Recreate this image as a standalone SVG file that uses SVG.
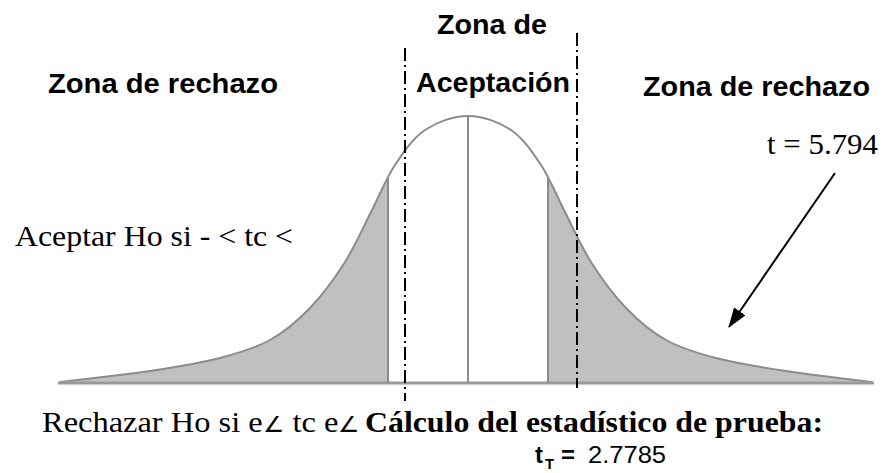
<svg xmlns="http://www.w3.org/2000/svg" width="888" height="473" viewBox="0 0 888 473">
<style>
.sb{font-family:"Liberation Sans",Arial,sans-serif;font-weight:bold;fill:#000}
.ss{font-family:"Liberation Sans",Arial,sans-serif;fill:#000}
.tr{font-family:"Liberation Serif","Times New Roman",serif;fill:#000}
.trb{font-family:"Liberation Serif","Times New Roman",serif;font-weight:bold;fill:#000}
.ang{font-size:22px}
.curve{fill:none;stroke:#8c8c8c;stroke-width:2}
.vl{stroke:#8c8c8c;stroke-width:2}
.dash{stroke:#000;stroke-width:2;stroke-dasharray:13 4 2 4}
</style>
<defs>
<path id="bell" d="M60,382 C75,380.2 123.3,375 150,371 C176.7,367 200,363.2 220,358 C240,352.8 255,348.3 270,340 C285,331.7 297.5,321 310,308 C322.5,295 334.7,278.3 345,262 C355.3,245.7 363.7,226.2 372,210 C380.3,193.8 386.2,178.3 395,165 C403.8,151.7 412.8,138.2 425,130 C437.2,121.8 453.7,116 468,116 C482.3,116 498.8,121.8 511,130 C523.2,138.2 532.2,151.7 541,165 C549.8,178.3 555.7,193.8 564,210 C572.3,226.2 580.7,245.7 591,262 C601.3,278.3 613.5,295 626,308 C638.5,321 651,331.7 666,340 C681,348.3 696,352.8 716,358 C736,363.2 759.3,367 786,371 C812.7,375 857,380.2 872,382"/>
<clipPath id="tails"><rect x="0" y="0" width="388" height="473"/><rect x="548" y="0" width="340" height="473"/></clipPath>
<marker id="ah" markerWidth="20" markerHeight="14" refX="19" refY="7" orient="auto" markerUnits="userSpaceOnUse"><path d="M0,0 L20,7 L0,14 Z" fill="#000"/></marker>
</defs>
<rect width="888" height="473" fill="#fff"/>
<g id="distribution">
<path clip-path="url(#tails)" fill="#c0c0c0" d="M60,382 C75,380.2 123.3,375 150,371 C176.7,367 200,363.2 220,358 C240,352.8 255,348.3 270,340 C285,331.7 297.5,321 310,308 C322.5,295 334.7,278.3 345,262 C355.3,245.7 363.7,226.2 372,210 C380.3,193.8 386.2,178.3 395,165 C403.8,151.7 412.8,138.2 425,130 C437.2,121.8 453.7,116 468,116 C482.3,116 498.8,121.8 511,130 C523.2,138.2 532.2,151.7 541,165 C549.8,178.3 555.7,193.8 564,210 C572.3,226.2 580.7,245.7 591,262 C601.3,278.3 613.5,295 626,308 C638.5,321 651,331.7 666,340 C681,348.3 696,352.8 716,358 C736,363.2 759.3,367 786,371 C812.7,375 857,380.2 872,382 L872,383 L60,383 Z"/>
<use href="#bell" class="curve"/>
<line x1="58" y1="383" x2="874" y2="383" stroke="#999" stroke-width="3"/>
<line class="vl" x1="388" y1="178" x2="388" y2="383"/>
<line class="vl" x1="468" y1="116" x2="468" y2="383"/>
<line class="vl" x1="548" y1="178" x2="548" y2="383"/>
</g>
<g id="guides">
<line class="dash" x1="405" y1="48" x2="405" y2="401"/>
<line class="dash" x1="577" y1="33" x2="577" y2="388"/>
</g>
<g id="labels-top">
<text class="sb" x="437" y="34" font-size="27" textLength="110" lengthAdjust="spacingAndGlyphs">Zona de</text>
<text class="sb" x="416" y="92" font-size="28" textLength="154" lengthAdjust="spacingAndGlyphs">Aceptación</text>
<text class="sb" x="48" y="93" font-size="28" textLength="230" lengthAdjust="spacingAndGlyphs">Zona de rechazo</text>
<text class="sb" x="643" y="96" font-size="28" textLength="227" lengthAdjust="spacingAndGlyphs">Zona de rechazo</text>
</g>
<g id="t-value">
<text class="tr" x="767" y="154" font-size="29" textLength="111" lengthAdjust="spacingAndGlyphs">t = 5.794</text>
</g>
<g id="accept-rule">
<text class="tr" x="15" y="246" font-size="29" textLength="278" lengthAdjust="spacingAndGlyphs">Aceptar Ho si - &lt; tc &lt;</text>
</g>
<g id="bottom-text">
<text class="tr" x="42" y="432" font-size="30" textLength="318" lengthAdjust="spacingAndGlyphs">Rechazar Ho si e<tspan class="ang">∠</tspan> tc e<tspan class="ang">∠</tspan></text>
<text class="trb" x="365" y="432" font-size="30" textLength="458" lengthAdjust="spacingAndGlyphs">Cálculo del estadístico de prueba:</text>
</g>
<g id="tt-value">
<text class="sb" x="535" y="463" font-size="24">t</text>
<text class="sb" x="545" y="469" font-size="15">T</text>
<text class="sb" x="561" y="463" font-size="24">=</text>
<text class="ss" x="588" y="463" font-size="24" textLength="78" lengthAdjust="spacingAndGlyphs">2.7785</text>
</g>
<g id="connectors">
<line x1="835" y1="173" x2="729" y2="327" stroke="#000" stroke-width="2" marker-end="url(#ah)"/>
</g>
</svg>
